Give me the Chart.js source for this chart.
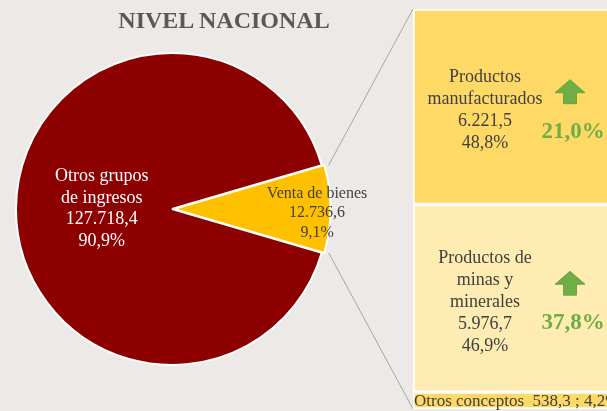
<!DOCTYPE html>
<html>
<head>
<meta charset="utf-8">
<script src="https://cdn.jsdelivr.net/npm/chart.js@4"></script>
<style>
  html, body { margin: 0; padding: 0; background: #ECE9E7; overflow: hidden; }
  #wrap { position: relative; width: 607px; height: 411px; overflow: hidden; }
  #pieChart { position: absolute; left: 0; top: 0; }
  #boxChart { position: absolute; left: 413px; top: 0; }
  #title {
    position: absolute; left: 74px; width: 300px; top: 8px;
    text-align: center; white-space: nowrap;
    font: bold 24px "Liberation Serif", "Times New Roman", serif;
    line-height: 24px; color: #595959;
  }
</style>
</head>
<body>
<div id="wrap">
  <canvas id="pieChart" width="607" height="411"></canvas>
  <canvas id="boxChart" width="240" height="411"></canvas>
  <div id="title">NIVEL NACIONAL</div>
</div>
<script>
// datos del gráfico circular
const pieNames = [["Venta de bienes"], ["Otros grupos", "de ingresos"]];
const pieValues = [12736.6, 127718.4];
const pieColors = ["#FFC000", "#8C0000"];

// desglose de "Venta de bienes" (de abajo hacia arriba)
const boxNames = [["Otros conceptos"], ["Productos de", "minas y", "minerales"], ["Productos", "manufacturados"]];
const boxValues = [538.3, 5976.7, 6221.5];
const boxGrowth = [null, 37.8, 21.0];
const boxColors = ["#FFD966", "#FFECB3", "#FFD966"];

const SERIF = '"Liberation Serif", "Times New Roman", serif';
const BOX_LEFT = 413;

function fmt(v) {
  const parts = v.toFixed(1).split(".");
  return parts[0].replace(/\B(?=(\d{3})+(?!\d))/g, ".") + "," + parts[1];
}
function pct(v) {
  return v.toFixed(1).replace(".", ",") + "%";
}
function drawLines(ctx, lines, x, y, lh) {
  const y0 = y - (lines.length - 1) * lh / 2;
  lines.forEach((t, i) => ctx.fillText(t, x, y0 + i * lh));
}

const pieTotal = pieValues.reduce((a, b) => a + b, 0);
const boxTotal = boxValues.reduce((a, b) => a + b, 0);

// textos y flechas dentro de las cajas
const boxLabels = {
  id: "boxLabels",
  afterDatasetsDraw(chart) {
    const ctx = chart.ctx;
    ctx.save();
    chart.data.datasets.forEach((ds, i) => {
      const el = chart.getDatasetMeta(i).data[0];
      const left = el.x - el.width / 2;
      const top = Math.min(el.y, el.base), bottom = Math.max(el.y, el.base);
      const cy = (top + bottom) / 2;
      const share = pct(boxValues[i] / boxTotal * 100);
      if (boxGrowth[i] === null) {
        ctx.font = "17px " + SERIF;
        ctx.fillStyle = "#404040";
        ctx.textAlign = "left";
        ctx.textBaseline = "middle";
        ctx.fillText(boxNames[i].join(" ") + "  " + fmt(boxValues[i]) + " ; " + share, left + 1, cy + 1);
        return;
      }
      ctx.font = "18px " + SERIF;
      ctx.fillStyle = "#404040";
      ctx.textAlign = "center";
      ctx.textBaseline = "middle";
      drawLines(ctx, boxNames[i].concat([fmt(boxValues[i]), share]), left + 72, cy + 4, 22);

      // flecha verde
      const ax = left + 157, ay = cy - 15;
      ctx.beginPath();
      ctx.moveTo(ax, ay - 12);
      ctx.lineTo(ax + 15, ay + 1);
      ctx.lineTo(ax + 6.5, ay + 1);
      ctx.lineTo(ax + 6.5, ay + 12);
      ctx.lineTo(ax - 6.5, ay + 12);
      ctx.lineTo(ax - 6.5, ay + 1);
      ctx.lineTo(ax - 15, ay + 1);
      ctx.closePath();
      ctx.fillStyle = "#70AD47";
      ctx.fill();
      ctx.strokeStyle = "#5E9A3A";
      ctx.lineWidth = 0.8;
      ctx.stroke();

      ctx.font = "bold 23px " + SERIF;
      ctx.fillStyle = "#70AD47";
      ctx.fillText(pct(boxGrowth[i]), left + 160, cy + 25);
    });
    ctx.restore();
  }
};

const ctx2 = document.getElementById("boxChart").getContext("2d");
const boxChart = new Chart(ctx2, {
  type: "bar",
  data: {
    labels: ["Venta de bienes"],
    datasets: boxValues.map((v, i) => ({
      label: boxNames[i].join(" "),
      data: [v],
      backgroundColor: boxColors[i],
      borderColor: "#FFFFFF",
      borderWidth: 2,
      borderSkipped: false,
      categoryPercentage: 1,
      barPercentage: 1,
    })),
  },
  options: {
    responsive: false,
    animation: false,
    layout: { padding: { top: 9, bottom: 2, left: 0, right: 0 } },
    scales: {
      x: { display: false, stacked: true },
      y: { display: false, stacked: true, min: 0, max: boxTotal },
    },
    plugins: { legend: { display: false }, tooltip: { enabled: false } },
  },
  plugins: [boxLabels],
});

// etiquetas del pastel y líneas de conexión
const pieLabels = {
  id: "pieLabels",
  afterDatasetsDraw(chart) {
    const ctx = chart.ctx;
    const meta = chart.getDatasetMeta(0);
    ctx.save();

    const gold = meta.data[0];
    const off = gold.options.offset || 0;
    const mid = (gold.startAngle + gold.endAngle) / 2;
    const gx = gold.x + Math.cos(mid) * off, gy = gold.y + Math.sin(mid) * off;
    const r = gold.outerRadius;
    const a = boxChart.chartArea;
    ctx.strokeStyle = "#A6A6A6";
    ctx.lineWidth = 1;
    ctx.beginPath();
    ctx.moveTo(gx + Math.cos(gold.startAngle) * r, gy + Math.sin(gold.startAngle) * r);
    ctx.lineTo(BOX_LEFT + a.left, a.top);
    ctx.moveTo(gx + Math.cos(gold.endAngle) * r, gy + Math.sin(gold.endAngle) * r);
    ctx.lineTo(BOX_LEFT + a.left, a.bottom);
    ctx.stroke();

    ctx.textAlign = "center";
    ctx.textBaseline = "middle";
    meta.data.forEach((el, i) => {
      const m = (el.startAngle + el.endAngle) / 2;
      const o = el.options.offset || 0;
      const lines = pieNames[i].concat([fmt(pieValues[i]), pct(pieValues[i] / pieTotal * 100)]);
      if (i === 0) {
        const d = o + el.outerRadius * 0.885;
        ctx.font = "16px " + SERIF;
        ctx.fillStyle = "#404040";
        drawLines(ctx, lines, el.x + Math.cos(m) * d, el.y + Math.sin(m) * d + 4, 19.5);
      } else {
        const d = el.outerRadius * 0.45;
        ctx.font = "18px " + SERIF;
        ctx.fillStyle = "#FFFFFF";
        drawLines(ctx, lines, el.x + Math.cos(m) * d, el.y + Math.sin(m) * d, 21.5);
      }
    });
    ctx.restore();
  }
};

const ctx1 = document.getElementById("pieChart").getContext("2d");
const pieChart = new Chart(ctx1, {
  type: "pie",
  data: {
    labels: pieNames.map(n => n.join(" ")),
    datasets: [
      {
        data: pieValues,
        backgroundColor: pieColors,
        borderColor: "#FFFFFF",
        borderWidth: 2,
        hoverBorderWidth: 2,
        hoverOffset: 0,
        offset: [7, 0],
      },
    ],
  },
  options: {
    responsive: false,
    animation: false,
    // la porción dorada queda centrada a las 3 en punto
    rotation: 90 - 180 * pieValues[0] / pieTotal,
    layout: { autoPadding: false, padding: { left: 11.5, right: 274.5, top: 48.5, bottom: 41.5 } },
    plugins: { legend: { display: false }, tooltip: { enabled: false } },
  },
  plugins: [pieLabels],
});
</script>
</body>
</html>
